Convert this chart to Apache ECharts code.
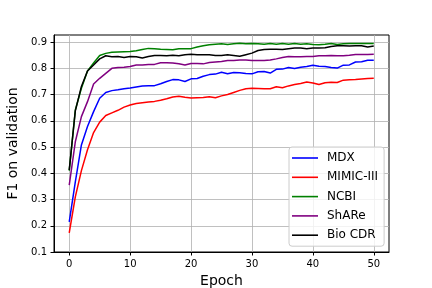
<!DOCTYPE html>
<html>
<head>
<meta charset="utf-8">
<script src="https://cdn.jsdelivr.net/npm/echarts@6/dist/echarts.min.js"></script>
<style>html,body{margin:0;padding:0;background:#fff}#c{width:432px;height:288px}</style>
</head>
<body>
<div id="c"></div>
<script>
const epochs = Array.from({length: 51}, (_, i) => i);
const xTicks = [0, 10, 20, 30, 40, 50];
const yTicks = [0.1, 0.2, 0.3, 0.4, 0.5, 0.6, 0.7, 0.8, 0.9];
const seriesNames = ['MDX', 'MIMIC-III', 'NCBI', 'ShARe', 'Bio CDR'];

const mdx = [0.215,0.367,0.508,0.578,0.635,0.686,0.708,0.715,0.718,0.722,
  0.725,0.729,0.733,0.734,0.734,0.741,0.750,0.757,0.756,0.750,
  0.760,0.761,0.770,0.776,0.778,0.785,0.779,0.784,0.783,0.780,
  0.779,0.787,0.788,0.782,0.796,0.797,0.803,0.799,0.804,0.807,
  0.812,0.808,0.807,0.803,0.801,0.812,0.813,0.824,0.825,0.831,0.831];
const mimic = [0.173,0.310,0.410,0.490,0.555,0.595,0.620,0.630,0.640,0.652,
  0.660,0.666,0.669,0.672,0.674,0.678,0.684,0.691,0.694,0.690,
  0.687,0.688,0.689,0.692,0.688,0.695,0.700,0.708,0.716,0.722,
  0.724,0.723,0.722,0.722,0.730,0.726,0.733,0.738,0.742,0.748,
  0.744,0.738,0.745,0.747,0.746,0.755,0.756,0.757,0.759,0.761,0.762];
const ncbi = [0.410,0.641,0.724,0.790,0.820,0.849,0.857,0.861,0.862,0.863,
  0.864,0.867,0.872,0.876,0.875,0.873,0.872,0.871,0.875,0.875,
  0.875,0.881,0.886,0.890,0.892,0.894,0.891,0.894,0.896,0.894,
  0.895,0.894,0.892,0.895,0.892,0.895,0.892,0.895,0.892,0.894,
  0.891,0.890,0.892,0.895,0.891,0.894,0.895,0.895,0.895,0.895,0.895];
const share = [0.355,0.520,0.616,0.673,0.740,0.762,0.781,0.800,0.803,0.804,
  0.807,0.813,0.813,0.815,0.815,0.821,0.821,0.820,0.817,0.813,
  0.818,0.818,0.817,0.822,0.824,0.826,0.830,0.830,0.832,0.832,
  0.830,0.830,0.830,0.832,0.836,0.841,0.845,0.844,0.844,0.845,
  0.845,0.848,0.848,0.849,0.848,0.848,0.850,0.853,0.853,0.853,0.854];
const biocdr = [0.412,0.638,0.731,0.790,0.813,0.836,0.848,0.844,0.845,0.841,
  0.845,0.844,0.839,0.845,0.849,0.849,0.848,0.850,0.848,0.852,
  0.854,0.852,0.852,0.852,0.849,0.849,0.852,0.849,0.846,0.852,
  0.858,0.868,0.872,0.873,0.873,0.872,0.875,0.877,0.877,0.875,
  0.877,0.877,0.878,0.883,0.886,0.886,0.885,0.886,0.886,0.881,0.885];
const colors = ['#0000ff', '#ff0000', '#008000', '#800080', '#000000'];
const values = [mdx, mimic, ncbi, share, biocdr];

const font = 'DejaVu Sans';
const lineIcon = 'path://M0,0 M26,14 M0,6.2 L26,6.2 L26,7.8 L0,7.8 Z';
const chart = echarts.init(document.getElementById('c'), null, {renderer: 'canvas'});
chart.setOption({
  animation: false,
  backgroundColor: '#ffffff',
  grid: {left: 54, right: 43, top: 35, bottom: 36, containLabel: false, outerBoundsMode: 'none',
    show: true, borderColor: '#000', borderWidth: 1, backgroundColor: 'transparent'},
  xAxis: {
    type: 'value', min: -2.5, max: 52.5,
    name: 'Epoch', nameLocation: 'middle', nameGap: 19,
    nameTextStyle: {fontFamily: font, fontSize: 14, color: '#000'},
    axisLine: {show: true, onZero: false, lineStyle: {color: '#000', width: 1}},
    axisTick: {show: true, inside: false, length: 3.5, lineStyle: {color: '#000'}, customValues: xTicks},
    axisLabel: {fontFamily: font, fontSize: 10, color: '#000', margin: 7, customValues: xTicks},
    splitLine: {show: true, lineStyle: {color: '#b0b0b0', width: 0.8}}
  },
  yAxis: {
    type: 'value', min: 0.1, max: 0.927,
    name: 'F1 on validation', nameLocation: 'middle', nameGap: 27,
    nameTextStyle: {fontFamily: font, fontSize: 14, color: '#000'},
    axisLine: {show: true, onZero: false, lineStyle: {color: '#000', width: 1}},
    axisTick: {show: true, inside: false, length: 3.5, lineStyle: {color: '#000'}, customValues: yTicks},
    axisLabel: {fontFamily: font, fontSize: 10, color: '#000', margin: 7, customValues: yTicks,
      formatter: v => (Math.round(v * 10) / 10).toFixed(1)},
    splitLine: {show: true, lineStyle: {color: '#b0b0b0', width: 0.8}}
  },
  legend: {
    orient: 'vertical', left: 289, top: 147,
    backgroundColor: 'rgba(255,255,255,0.8)', borderColor: '#cccccc', borderWidth: 1, borderRadius: 3,
    padding: [4, 6, 4, 3],
    itemWidth: 26, itemHeight: 14, itemGap: 5.3,
    textStyle: {fontFamily: font, fontSize: 12, color: '#000', padding: [0, 0, 0, 4]},
    data: seriesNames.map((n, i) => ({name: n, icon: lineIcon, itemStyle: {color: colors[i]}}))
  },
  series: seriesNames.map((n, i) => ({
    name: n, type: 'line', symbol: 'none', showSymbol: false,
    data: epochs.map((e, j) => [e, values[i][j]]),
    lineStyle: {color: colors[i], width: 1.5},
    itemStyle: {color: colors[i]},
    z: 2 + i
  }))
});
</script>
</body>
</html>
